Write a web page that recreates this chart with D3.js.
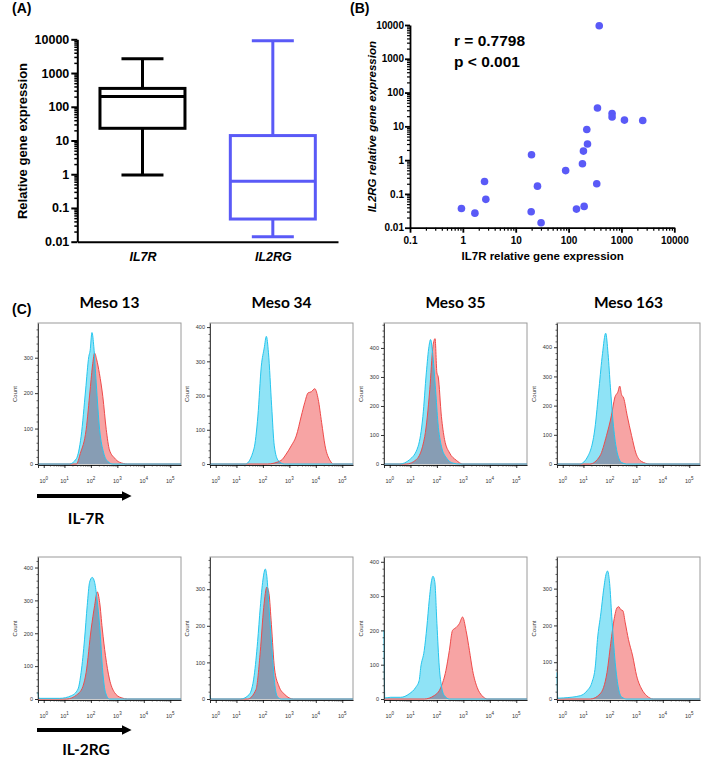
<!DOCTYPE html>
<html><head><meta charset="utf-8">
<script src="https://cdn.jsdelivr.net/npm/d3@7"></script>
<style>
body{margin:0;background:#fff;}
svg{display:block;}
</style></head>
<body>
<svg id="c" width="709" height="764"></svg>
<script>
// ---------- DATA ----------
// Panel A: box plot (min, Q1, median, Q3, max)
const boxCategories = ["IL7R", "IL2RG"];
const boxMin    = [0.95, 0.014];
const boxQ1     = [23, 0.047];
const boxMedian = [200, 0.62];
const boxQ3     = [350, 14];
const boxMax    = [2650, 9000];
const logTicks  = [0.01, 0.1, 1, 10, 100, 1000, 10000];

// Panel B: scatter IL7R (x) vs IL2RG (y)
const scatterIL7R  = [380, 352, 665, 665, 1140, 2530, 221, 228, 191, 19.9, 183, 88, 341, 25.8, 2.57, 2.72, 0.94, 1.69, 19.6, 30.2, 141, 197];
const scatterIL2RG = [9500, 35, 24, 19, 15.3, 14.9, 8.1, 3.0, 1.85, 1.44, 0.78, 0.49, 0.2, 0.17, 0.234, 0.069, 0.037, 0.027, 0.0296, 0.014, 0.0355, 0.0427];
const scatterXTicks = [0.1, 1, 10, 100, 1000, 10000];
const corrText = ["r = 0.7798", "p < 0.001"];

// Panel C: flow histograms, [log10 fluorescence, count]
const flowTitles = ["Meso 13", "Meso 34", "Meso 35", "Meso 163"];
const flowMarkers = ["IL-7R", "IL-2RG"];
const flowDecades = [0, 1, 2, 3, 4, 5];
const flowYMax = [[398, 412, 486, 483], [432, 388, 414, 386]];

const m13_7r_iso = [[1.19,0],[1.45,15],[1.63,78],[1.8,209],[1.92,303],[1.97,320],[2.04,371],[2.11,331],[2.2,229],[2.33,97],[2.48,32],[2.64,7],[2.83,0]];
const m13_7r_ab  = [[1.45,0],[1.6,30],[1.82,97],[1.97,209],[2.07,284],[2.14,313],[2.22,294],[2.32,256],[2.45,190],[2.58,97],[2.7,40],[2.89,17],[3.08,5],[3.39,0]];
const m34_7r_iso = [[1.34,0],[1.66,44],[1.81,140],[1.94,286],[2.05,339],[2.13,373],[2.21,325],[2.33,170],[2.43,53],[2.58,10],[2.81,0]];
const m34_7r_ab  = [[2.17,0],[2.68,10],[2.88,29],[3.07,53],[3.26,82],[3.45,140],[3.58,179],[3.71,208],[3.83,211],[3.96,220],[4.09,189],[4.22,121],[4.35,53],[4.54,10],[4.66,0]];
const m35_7r_iso = [[0.48,0],[0.96,15],[1.29,61],[1.47,164],[1.6,314],[1.7,405],[1.76,429],[1.85,371],[1.95,256],[2.04,141],[2.17,61],[2.36,21],[2.61,3],[2.86,0]];
const m35_7r_ab  = [[0.8,0],[1.22,15],[1.54,95],[1.73,256],[1.85,405],[1.93,432],[2.0,314],[2.05,300],[2.17,164],[2.29,84],[2.48,38],[2.73,13],[2.98,0]];
const m163_7r_iso = [[0.82,0],[1.17,27],[1.43,120],[1.59,261],[1.72,378],[1.84,448],[1.93,378],[2.02,261],[2.12,144],[2.25,50],[2.44,5],[2.63,0]];
const m163_7r_ab  = [[1.24,0],[1.62,27],[1.87,97],[2.06,167],[2.18,226],[2.31,249],[2.37,267],[2.44,238],[2.52,226],[2.65,167],[2.82,97],[2.98,38],[3.19,9],[3.51,0]];

const m13_2rg_iso = [[-0.3,20],[-0.25,2],[0.77,2],[1.26,10],[1.51,30],[1.63,81],[1.76,182],[1.86,284],[1.95,355],[2.05,370],[2.14,355],[2.23,304],[2.33,223],[2.45,81],[2.55,20],[2.7,0]];
const m13_2rg_ab  = [[1.07,0],[1.57,20],[1.82,81],[2.01,213],[2.14,284],[2.24,326],[2.33,294],[2.43,213],[2.55,132],[2.7,61],[2.89,20],[3.14,4],[3.39,0]];
const m34_2rg_iso = [[-0.3,10],[-0.25,0],[1.16,0],[1.48,12],[1.67,64],[1.8,157],[1.9,250],[2.0,325],[2.09,355],[2.15,334],[2.23,250],[2.34,138],[2.44,45],[2.55,6],[2.7,0]];
const m34_2rg_ab  = [[1.42,0],[1.74,26],[1.9,129],[2.03,250],[2.15,306],[2.23,288],[2.32,204],[2.44,82],[2.6,36],[2.83,12],[3.15,0]];
const m35_2rg_iso = [[-0.3,200],[-0.26,3],[0.05,5],[0.53,5],[0.94,15],[1.2,34],[1.33,54],[1.39,93],[1.52,141],[1.62,210],[1.71,288],[1.8,346],[1.85,358],[1.92,342],[2.0,220],[2.09,93],[2.18,34],[2.28,10],[2.47,0]];
const m35_2rg_ab  = [[1.52,0],[1.9,10],[2.15,34],[2.34,83],[2.47,141],[2.59,200],[2.72,208],[2.85,220],[2.97,239],[3.1,200],[3.23,141],[3.35,83],[3.52,34],[3.7,10],[3.92,0]];
const m163_2rg_iso = [[-0.3,72],[-0.26,2],[0.05,3],[0.85,9],[1.13,22],[1.32,45],[1.45,90],[1.53,162],[1.66,234],[1.76,296],[1.86,341],[1.91,348],[1.99,314],[2.07,225],[2.2,99],[2.33,27],[2.45,5],[2.64,0]];
const m163_2rg_ab  = [[1.26,0],[1.63,14],[1.89,72],[2.05,162],[2.18,225],[2.26,247],[2.33,251],[2.41,243],[2.49,240],[2.58,207],[2.7,162],[2.86,117],[3.01,63],[3.2,27],[3.39,9],[3.64,0]];

const flowIso = [[m13_7r_iso, m34_7r_iso, m35_7r_iso, m163_7r_iso], [m13_2rg_iso, m34_2rg_iso, m35_2rg_iso, m163_2rg_iso]];
const flowAb  = [[m13_7r_ab, m34_7r_ab, m35_7r_ab, m163_7r_ab], [m13_2rg_ab, m34_2rg_ab, m35_2rg_ab, m163_2rg_ab]];

// ---------- DRAWING ----------
const svg = d3.select("#c");
const defs = svg.append("defs");
const ARIAL = "Arial, 'Liberation Sans', sans-serif";
const CAL = "Lato, 'Open Sans', sans-serif";
const BLUE = "#5a5af7";

function logMinors(lo, hi) {
  const out = [];
  for (let e = Math.log10(lo); e < Math.log10(hi); e++)
    for (let k = 2; k <= 9; k++) out.push(k * Math.pow(10, e));
  return out;
}
function styleAxis(g, w) {
  g.selectAll("path.domain").attr("stroke", "#000").attr("stroke-width", w);
  g.selectAll(".tick line").attr("stroke", "#000").attr("stroke-width", w);
}

// panel labels
[["(A)", 12, 13], ["(B)", 350, 13], ["(C)", 12, 314]].forEach(([t, x, y]) => {
  svg.append("text").attr("x", x).attr("y", y).text(t)
    .attr("font-family", ARIAL).attr("font-weight", "bold").attr("font-size", 14);
});

// ===== Panel A =====
{
  const y = d3.scaleLog().domain([0.01, 10000]).range([241.7, 39.3]);
  const x = d3.scalePoint().domain(boxCategories).range([77.3, 338]).padding(0.5);
  const gMinor = svg.append("g").attr("transform", "translate(77.3,0)")
    .call(d3.axisLeft(y).tickValues(logMinors(0.01, 10000)).tickSize(3).tickFormat(""));
  gMinor.select("path.domain").remove();
  styleAxis(gMinor, 1.5);
  const gy = svg.append("g").attr("transform", "translate(77.3,0)")
    .call(d3.axisLeft(y).tickValues(logTicks).tickSize(6).tickSizeOuter(0).tickFormat(d => String(d)));
  styleAxis(gy, 2);
  gy.selectAll("text").attr("font-family", ARIAL).attr("font-weight", "bold").attr("font-size", 12.5).attr("fill", "#000").attr("x", -8);
  const gx = svg.append("g").attr("transform", "translate(0,241.7)")
    .call(d3.axisBottom(x).tickSize(0).tickSizeOuter(0));
  styleAxis(gx, 2);
  gx.selectAll("text").attr("font-family", ARIAL).attr("font-weight", "bold").attr("font-style", "italic")
    .attr("font-size", 12.5).attr("fill", "#000").attr("dy", "1.3em");
  svg.append("text").attr("transform", "translate(27,141) rotate(-90)").attr("text-anchor", "middle")
    .attr("font-family", ARIAL).attr("font-weight", "bold").attr("font-size", 13).text("Relative gene expression");
  const half = 42.5, cap = 21;
  boxCategories.forEach((c, i) => {
    const cx = x(c), col = i === 0 ? "#000" : BLUE;
    const g = svg.append("g").attr("stroke", col).attr("stroke-width", 3).attr("fill", "none");
    g.append("line").attr("x1", cx).attr("x2", cx).attr("y1", y(boxMax[i])).attr("y2", y(boxQ3[i]));
    g.append("line").attr("x1", cx).attr("x2", cx).attr("y1", y(boxQ1[i])).attr("y2", y(boxMin[i]));
    g.append("line").attr("x1", cx - cap).attr("x2", cx + cap).attr("y1", y(boxMax[i])).attr("y2", y(boxMax[i]));
    g.append("line").attr("x1", cx - cap).attr("x2", cx + cap).attr("y1", y(boxMin[i])).attr("y2", y(boxMin[i]));
    g.append("rect").attr("x", cx - half).attr("width", 2 * half).attr("y", y(boxQ3[i])).attr("height", y(boxQ1[i]) - y(boxQ3[i]));
    g.append("line").attr("x1", cx - half).attr("x2", cx + half).attr("y1", y(boxMedian[i])).attr("y2", y(boxMedian[i]));
  });
}

// ===== Panel B =====
{
  const x = d3.scaleLog().domain([0.1, 10000]).range([410, 674.3]);
  const y = d3.scaleLog().domain([0.01, 10000]).range([227.7, 25]);
  const gxm = svg.append("g").attr("transform", "translate(0,227.7)")
    .call(d3.axisBottom(x).tickValues(logMinors(0.1, 10000)).tickSize(3).tickFormat(""));
  gxm.select("path.domain").remove(); styleAxis(gxm, 1.2);
  const gym = svg.append("g").attr("transform", "translate(410,0)")
    .call(d3.axisLeft(y).tickValues(logMinors(0.01, 10000)).tickSize(3).tickFormat(""));
  gym.select("path.domain").remove(); styleAxis(gym, 1.2);
  const gx = svg.append("g").attr("transform", "translate(0,227.7)")
    .call(d3.axisBottom(x).tickValues(scatterXTicks).tickSize(5).tickSizeOuter(0).tickFormat(d => String(d)));
  styleAxis(gx, 1.8);
  gx.selectAll("text").attr("font-family", ARIAL).attr("font-weight", "bold").attr("font-size", 10).attr("fill", "#000").attr("y", 9);
  const gy = svg.append("g").attr("transform", "translate(410,0)")
    .call(d3.axisLeft(y).tickValues(logTicks).tickSize(5).tickSizeOuter(0).tickFormat(d => String(d)));
  styleAxis(gy, 1.8);
  gy.selectAll("text").attr("font-family", ARIAL).attr("font-weight", "bold").attr("font-size", 10).attr("fill", "#000").attr("x", -6);
  svg.append("text").attr("x", 542.7).attr("y", 260).attr("text-anchor", "middle")
    .attr("font-family", ARIAL).attr("font-weight", "bold").attr("font-size", 11.5).text("IL7R relative gene expression");
  svg.append("text").attr("transform", "translate(375.5,126.7) rotate(-90)").attr("text-anchor", "middle")
    .attr("font-family", ARIAL).attr("font-weight", "bold").attr("font-style", "italic").attr("font-size", 11.5)
    .text("IL2RG relative gene expression");
  svg.append("g").selectAll("circle").data(scatterIL7R).join("circle")
    .attr("cx", d => x(d)).attr("cy", (d, i) => y(scatterIL2RG[i])).attr("r", 3.8).attr("fill", BLUE);
  corrText.forEach((t, i) => {
    svg.append("text").attr("x", 454).attr("y", 46 + i * 20.5).text(t)
      .attr("font-family", ARIAL).attr("font-weight", "bold").attr("font-size", 15.5);
  });
}

// ===== Panel C =====
const colX = [38, 210, 384, 557];
const rowTop = [323, 557];
const rowBot = [465, 700];
const panelW = 143;
const fracs = [0, 0.04, 0.185, 0.37, 0.555, 0.74, 0.925, 1];
const xDom = [-0.3, 0, 1, 2, 3, 4, 5, 5.4];

flowTitles.forEach((t, i) => {
  svg.append("text").attr("x", colX[i] + panelW / 2).attr("y", 308).attr("text-anchor", "middle")
    .attr("font-family", CAL).attr("font-weight", "bold").attr("font-size", 15.5).text(t);
});

for (let r = 0; r < 2; r++) {
  for (let c = 0; c < 4; c++) {
    const x0 = colX[c], y0 = rowTop[r], yb = rowBot[r];
    const x = d3.scaleLinear().domain(xDom).range(fracs.map(f => x0 + f * panelW)).clamp(true);
    const y = d3.scaleLinear().domain([0, flowYMax[r][c]]).range([yb - 1, y0]);
    const g = svg.append("g");
    g.append("rect").attr("x", x0).attr("y", y0).attr("width", panelW).attr("height", yb - y0)
      .attr("fill", "#fff").attr("stroke", "#9a9a9a").attr("stroke-width", 1);
    const full = d => {
      const a = d.slice();
      if (a[0][0] > -0.3) a.unshift([-0.3, 0]);
      if (a[a.length - 1][0] < 5.4) a.push([5.4, 0]);
      return a;
    };
    const area = d3.area().x(d => x(d[0])).y0(y(0)).y1(d => y(d[1])).curve(d3.curveMonotoneX);
    const line = d3.line().x(d => x(d[0])).y(d => y(d[1])).curve(d3.curveMonotoneX);
    const iso = full(flowIso[r][c]), ab = full(flowAb[r][c]);
    const cid = `clip${r}${c}`;
    defs.append("clipPath").attr("id", cid).append("path").attr("d", area(iso));
    g.append("path").attr("d", area(ab)).attr("fill", "#f7a4a4");
    g.append("path").attr("d", area(iso)).attr("fill", "#8fe3f6");
    g.append("path").attr("d", area(ab)).attr("fill", "#879db4").attr("clip-path", `url(#${cid})`);
    g.append("path").attr("d", line(ab)).attr("fill", "none").attr("stroke", "#ef4a4a").attr("stroke-width", 1);
    g.append("path").attr("d", line(iso)).attr("fill", "none").attr("stroke", "#25c6ee").attr("stroke-width", 1);
    // y axis
    const ym = g.append("g").attr("transform", `translate(${x0},0)`)
      .call(d3.axisLeft(y).tickValues(d3.range(20, flowYMax[r][c], 20).filter(v => v % 100)).tickSize(1.5).tickFormat(""));
    ym.select("path.domain").remove(); styleAxis(ym, 0.6);
    const ya = g.append("g").attr("transform", `translate(${x0},0)`)
      .call(d3.axisLeft(y).tickValues(d3.range(0, flowYMax[r][c] + 1, 100)).tickSize(3).tickSizeOuter(0));
    styleAxis(ya, 0.8);
    ya.select("path.domain").attr("stroke", "#222");
    ya.selectAll("text").attr("font-family", ARIAL).attr("font-size", 5.5).attr("fill", "#333").attr("x", -5);
    g.append("text").attr("transform", `translate(${x0 - 21},${(y0 + yb) / 2}) rotate(-90)`).attr("text-anchor", "middle")
      .attr("font-family", ARIAL).attr("font-size", 6).attr("fill", "#333").text("Count");
    // x axis
    const minors = [];
    flowDecades.forEach(e => { if (e < 5) for (let k = 2; k <= 9; k++) minors.push(e + Math.log10(k)); });
    const xm = g.append("g").attr("transform", `translate(0,${yb})`)
      .call(d3.axisBottom(x).tickValues(minors).tickSize(1.5).tickFormat(""));
    xm.select("path.domain").remove(); styleAxis(xm, 0.6);
    const xa = g.append("g").attr("transform", `translate(0,${yb})`)
      .call(d3.axisBottom(x).tickValues([-0.3].concat(flowDecades)).tickSize(3).tickSizeOuter(0).tickFormat(""));
    styleAxis(xa, 0.8);
    xa.select("path.domain").attr("stroke", "#222").attr("stroke-width", 1.2);
    flowDecades.forEach(e => {
      const t = g.append("text").attr("x", x(e)).attr("y", yb + 18).attr("text-anchor", "middle")
        .attr("font-family", ARIAL).attr("font-size", 5.5).attr("fill", "#333");
      t.append("tspan").text("10");
      t.append("tspan").attr("dy", -3).attr("font-size", 4.5).text(String(e));
    });
  }
}

// arrows + marker labels
const arrowY = [496, 730];
const labelY = [524, 755];
defs.append("marker").attr("id", "ah").attr("viewBox", "0 0 10 10").attr("refX", 0).attr("refY", 5)
  .attr("markerWidth", 3).attr("markerHeight", 2.4).attr("orient", "auto")
  .append("path").attr("d", "M0,0 L10,5 L0,10 Z").attr("fill", "#000");
flowMarkers.forEach((m, i) => {
  svg.append("line").attr("x1", 37).attr("x2", 122).attr("y1", arrowY[i]).attr("y2", arrowY[i])
    .attr("stroke", "#000").attr("stroke-width", 4).attr("marker-end", "url(#ah)");
  svg.append("text").attr("x", 86).attr("y", labelY[i]).attr("text-anchor", "middle")
    .attr("font-family", CAL).attr("font-weight", "bold").attr("font-size", 15.5).text(m);
});
</script>
</body></html>
